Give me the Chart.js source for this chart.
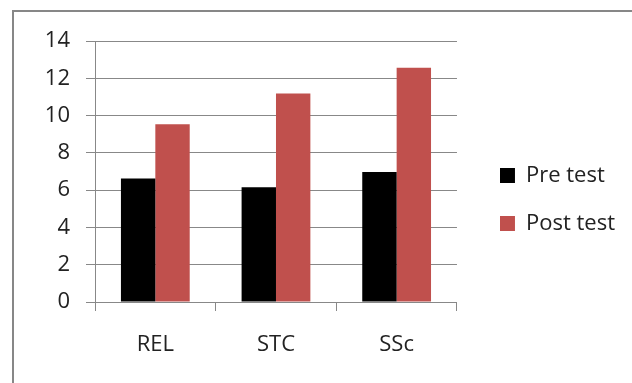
<!DOCTYPE html>
<html>
<head>
<meta charset="utf-8">
<script src="https://cdn.jsdelivr.net/npm/chart.js@4"></script>
<style>
    html, body { margin: 0; padding: 0; background: #fff; overflow: hidden; }
    body { width: 632px; height: 383px; position: relative; }
    .frame {
        position: absolute; left: 12px; top: 10px; width: 700px; height: 500px;
        border-top: 2px solid #878787; border-left: 2px solid #878787;
    }
    .wrap { position: absolute; left: 0; top: 0; width: 632px; height: 383px; }
</style>
</head>
<body>
<div class="frame"></div>
<div class="wrap"><canvas id="chart" width="632" height="383"></canvas></div>
<script>
// --- data ---
const categories = ['REL', 'STC', 'SSc'];
const seriesNames = ['Pre test', 'Post test'];
const preTest = [6.63, 6.15, 6.97];
const postTest = [9.53, 11.18, 12.57];
const yTicks = [0, 2, 4, 6, 8, 10, 12, 14];

const FONT = "'Open Sans', 'Noto Sans', sans-serif";
const TEXT = '#222';
const LINE = '#888';

new Chart(document.getElementById('chart'), {
    type: 'bar',
    data: {
        labels: categories,
        datasets: [
            { label: seriesNames[0], data: preTest, backgroundColor: '#000000' },
            { label: seriesNames[1], data: postTest, backgroundColor: '#C0504D' }
        ]
    },
    options: {
        responsive: false,
        animation: false,
        devicePixelRatio: 1,
        layout: { padding: { left: 45, right: 7, top: 41, bottom: 25 } },
        datasets: { bar: { categoryPercentage: 0.57, barPercentage: 1.0 } },
        scales: {
            x: {
                grid: { display: true, drawOnChartArea: false, offset: true, color: LINE, tickLength: 9 },
                border: { color: LINE },
                ticks: { color: TEXT, padding: 21, font: { family: FONT, size: 22 } },
                afterFit: s => { s.height = 56; }
            },
            y: {
                min: yTicks[0],
                max: yTicks[yTicks.length - 1],
                afterBuildTicks: s => { s.ticks = yTicks.map(v => ({ value: v })); },
                grid: { color: LINE, tickLength: 9 },
                border: { color: LINE },
                ticks: { color: TEXT, padding: 16, font: { family: FONT, size: 22 } },
                afterFit: s => { s.width = 50; }
            },
            // empty spacer between plot and legend
            gap: {
                type: 'linear', position: 'right',
                grid: { display: false }, border: { display: false },
                ticks: { display: false },
                afterFit: s => { s.width = 17; }
            }
        },
        plugins: {
            legend: {
                position: 'right',
                maxWidth: 220,
                labels: {
                    boxWidth: 15, boxHeight: 15, padding: 26, color: TEXT,
                    font: { family: FONT, size: 22 }
                }
            },
            tooltip: { enabled: false }
        }
    }
});
</script>
</body>
</html>
